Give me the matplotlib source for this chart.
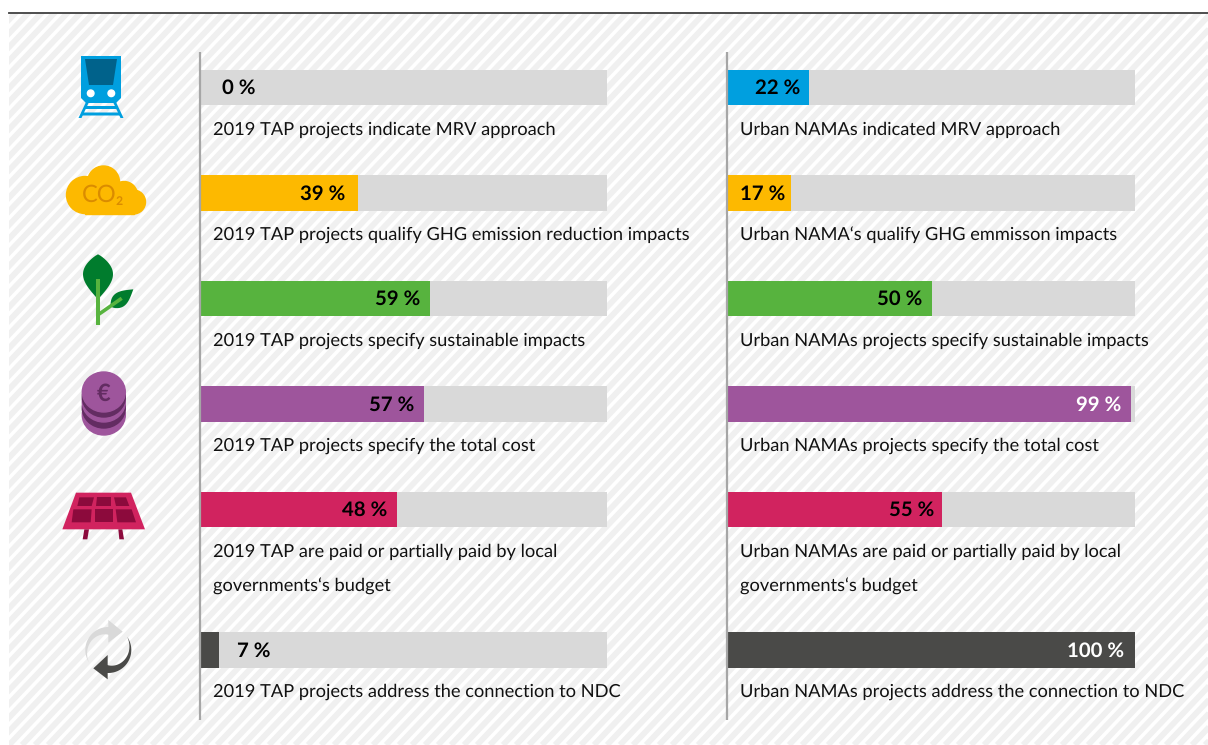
import numpy as np
import matplotlib
matplotlib.use('Agg')
import matplotlib.pyplot as plt
from matplotlib.collections import LineCollection
from matplotlib.patches import Circle, Ellipse, Polygon, Rectangle

plt.rcParams['font.family'] = ['Lato', 'DejaVu Sans']
plt.rcParams['text.hinting'] = 'no_hinting'

# bar lengths as drawn in the picture, and the labels printed on them
tap_values = [0, 38.8, 56.5, 55, 48.4, 4.7]
nama_values = [20.1, 15.7, 50.2, 99, 52.7, 100]
tap_labels = ['0 %', '39 %', '59 %', '57 %', '48 %', '7 %']
nama_labels = ['22 %', '17 %', '50 %', '99 %', '55 %', '100 %']
tap_texts = [
    ['2019 TAP projects indicate MRV approach'],
    ['2019 TAP projects qualify GHG emission reduction impacts'],
    ['2019 TAP projects specify sustainable impacts'],
    ['2019 TAP projects specify the total cost'],
    ['2019 TAP are paid or partially paid by local', 'governments‘s budget'],
    ['2019 TAP projects address the connection to NDC'],
]
nama_texts = [
    ['Urban NAMAs indicated MRV approach'],
    ['Urban NAMA‘s qualify GHG emmisson impacts'],
    ['Urban NAMAs projects specify sustainable impacts'],
    ['Urban NAMAs projects specify the total cost'],
    ['Urban NAMAs are paid or partially paid by local', 'governments‘s budget'],
    ['Urban NAMAs projects address the connection to NDC'],
]
colors = ['#009fdf', '#fdb900', '#57b33e', '#9e559c', '#d1235f', '#4a4a48']

W, H = 1208, 745
row_y = [87.5, 193, 298.5, 404, 509.5, 650]
bar_h = 35.5
label_font = 13.15
value_font = 14.7
# distance in px from bar end to the right edge of its label
tap_gaps = [55, -13, -10, -10, -9.5, 51]
nama_gaps = [-9, -6, -10, -10, -8, -11]

fig = plt.figure(figsize=(W / 100, H / 100), dpi=100, facecolor='white')

# pixel space axes for background, text and icons
bg = fig.add_axes([0, 0, 1, 1])
bg.set_xlim(0, W)
bg.set_ylim(H, 0)
bg.axis('off')

# diagonal stripes
clip = Rectangle((9, 13), W - 9, H - 13, transform=bg.transData)
segs = [[(x, H), (x + H * 0.95, 0)] for x in np.arange(-H, W + 20, 13.0)]
stripes = LineCollection(segs, colors='#f0f0f0', linewidths=4.2, zorder=0)
bg.add_collection(stripes)
stripes.set_clip_path(clip)
bg.plot([9, W], [13, 13], color='#404040', lw=1.3, zorder=1)


def draw_panel(x0, width, values, labels, texts, gaps, text_x):
    ax = fig.add_axes([x0 / W, 0, width / W, 1])
    ax.set_xlim(0, 100)
    ax.set_ylim(H, 0)
    ax.axis('off')
    ax.barh(row_y, [100] * 6, height=bar_h, color='#d9d9d9')
    ax.barh(row_y, values, height=bar_h, color=colors)
    for i, (v, lab) in enumerate(zip(values, labels)):
        col = 'white' if v > 90 else 'black'
        ax.annotate(lab, (v, row_y[i] + 1), xytext=(gaps[i] * 0.72, 0), textcoords='offset points',
                    ha='right', va='center', fontsize=value_font, fontweight='bold', color=col)
    for i, lines in enumerate(texts):
        for j, line in enumerate(lines):
            bg.text(text_x, row_y[i] + 42 + j * 35, line, ha='left', va='center',
                    fontsize=label_font, color='#111111')
    ax.plot([0, 0], [52, 720], color='#a6a6a6', lw=1.6, clip_on=False, solid_capstyle='butt')


draw_panel(200, 407, tap_values, tap_labels, tap_texts, tap_gaps, 213)
draw_panel(727, 408, nama_values, nama_labels, nama_texts, nama_gaps, 740.5)


def poly(points, color, x0=0, y0=0, scale=1.0):
    pts = [(x0 + px / scale, y0 + py / scale) for px, py in points]
    bg.add_patch(Polygon(pts, closed=True, facecolor=color, edgecolor='none', zorder=4))


def arc_band(cx, cy, r_out, r_tail, r_head, a0, a1, color):
    # crescent that thickens from tail to arrow head
    t = np.radians(np.linspace(a0, a1, 50))
    r_in = np.linspace(r_tail, r_head, 50)
    outer = np.c_[cx + r_out * np.cos(t), cy + r_out * np.sin(t)]
    inner = np.c_[cx + r_in * np.cos(t), cy + r_in * np.sin(t)][::-1]
    poly(np.vstack([outer, inner]), color)


# train
blue = colors[0]
poly([(81, 56), (121, 56), (121, 98), (116, 103), (86, 103), (81, 98)], blue)
poly([(85, 59), (117, 59), (113, 85), (89, 85)], '#00628b')
bg.add_patch(Circle((90.7, 93.3), 3.3, color='white', zorder=5))
bg.add_patch(Circle((111.3, 93.3), 3.3, color='white', zorder=5))
poly([(86, 102), (89, 102), (81.5, 118), (78.5, 118)], blue)
poly([(113, 102), (116, 102), (123.5, 118), (120.5, 118)], blue)
poly([(85, 106), (117, 106), (118, 109), (84, 109)], blue)
poly([(82, 112.5), (120, 112.5), (121, 115.5), (81, 115.5)], blue)

# cloud
yellow = colors[1]
for c, r in [((85, 195), 18.5), ((103.5, 182), 16), ((124, 195), 13.5), ((133.5, 202), 12)]:
    bg.add_patch(Circle(c, r, color=yellow, zorder=4))
bg.add_patch(Rectangle((85, 195), 49, 19, color=yellow, zorder=4))
bg.text(103.5, 195.5, 'CO₂', ha='center', va='center', fontsize=17, color='#da8c00', zorder=5)

# plant
leaf_dark = '#007c2d'
t = np.linspace(0, 1, 30)
big_right = np.c_[98 + 15 * np.sin(np.pi * t ** 0.85), 254.3 + 45 * t]
big_left = np.c_[98 - 15 * np.sin(np.pi * t ** 0.85), 254.3 + 45 * t][::-1]
poly(np.vstack([big_right, big_left]), leaf_dark)
start, end = np.array([111, 306.7]), np.array([133.3, 289.3])
axis_dir = end - start
normal = np.array([axis_dir[1], -axis_dir[0]]) / np.hypot(*axis_dir)
side_a = start + np.outer(t, axis_dir) + np.outer(7.5 * np.sin(np.pi * t ** 0.75), normal)
side_b = start + np.outer(t, axis_dir) - np.outer(7.5 * np.sin(np.pi * t ** 0.75), normal)
poly(np.vstack([side_a, side_b[::-1]]), leaf_dark)
bg.plot([98, 98], [279, 325], color=colors[2], lw=2.9, solid_capstyle='butt', zorder=5)
bg.plot([98.5, 121.7], [314.5, 298.3], color=colors[2], lw=2.6, solid_capstyle='butt', zorder=5)

# coins
purple = colors[3]
purple_dark = '#632c62'
for cy, col in [(415, purple), (408, purple_dark), (402, purple), (397, purple_dark), (392, purple)]:
    bg.add_patch(Ellipse((103.8, cy), 43, 40, color=col, zorder=4))
bg.text(103.2, 393.5, '€', ha='center', va='center', fontsize=17, fontweight='bold', color=purple_dark, zorder=5)

# solar panel
pink = colors[4]
cell = '#8c0a3c'
panel = dict(x0=40, y0=470, scale=3.0)
poly([(108, 68), (273, 68), (315, 178), (67, 178)], pink, **panel)
poly([(133, 178), (147, 178), (142, 208), (128, 208)], cell, **panel)
poly([(235, 178), (247, 178), (252, 208), (238, 208)], cell, **panel)
for cell_pts in [
    [(118, 82), (162, 82), (155, 108), (112, 108)],
    [(170, 82), (212, 82), (212, 108), (168, 108)],
    [(222, 82), (258, 82), (268, 108), (228, 108)],
    [(100, 118), (155, 118), (152, 157), (95, 157)],
    [(165, 118), (218, 118), (218, 157), (165, 157)],
    [(227, 118), (275, 118), (288, 157), (232, 157)],
]:
    poly(cell_pts, cell, **panel)

# cycle arrows
cx, cy = 108.3, 650
arc_band(cx, cy, 23, 23, 15, 147, 275, '#d9d9d9')
poly([(205, 450), (248, 485), (205, 518)], '#d9d9d9', **panel)
arc_band(cx, cy, 23, 23, 15, -35, 95, '#4a4a48')
poly([(203, 555), (160, 595), (203, 628)], '#4a4a48', **panel)

fig.savefig('out.png', dpi=100, facecolor='white')
